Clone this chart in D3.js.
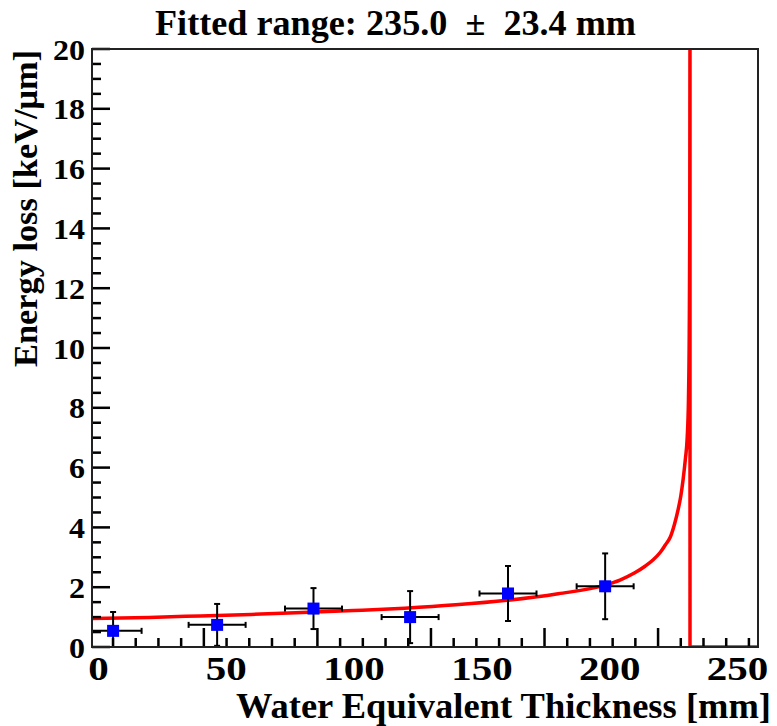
<!DOCTYPE html>
<html>
<head>
<meta charset="utf-8">
<script src="https://cdn.jsdelivr.net/npm/d3@7"></script>
<style>
  html, body { margin: 0; padding: 0; background: #fff; }
  svg { display: block; }
  text { font-family: "Liberation Serif", "Times New Roman", serif; font-weight: bold; fill: #000; }
</style>
</head>
<body>
<svg id="chart" width="777" height="726"></svg>
<script>
// ---------------- data ----------------
const titleText = "Fitted range: 235.0  \u00B1  23.4 mm";
const xTitle = "Water Equivalent Thickness [mm]";
const yTitle = "Energy loss [keV/\u03BCm]";

const xTickLabels = [0, 50, 100, 150, 200, 250];
const yTickLabels = [0, 2, 4, 6, 8, 10, 12, 14, 16, 18, 20];
const yMinorTicks = [0.5, 1, 1.5, 2.5, 3, 3.5, 4.5, 5, 5.5, 6.5, 7, 7.5, 8.5, 9, 9.5, 10.5, 11, 11.5, 12.5, 13, 13.5, 14.5, 15, 15.5, 16.5, 17, 17.5, 18.5, 19, 19.5];
const xMinorTicks = [1, 2, 3, 4, 6, 7, 8, 9, 11, 12, 13, 14, 16, 17, 18, 19, 21, 22, 23, 24, 26, 27, 28, 29];
const xMajorTicks = [5, 10, 15, 20, 25];

// measured points (mm, keV/um) with errors
const pointX    = [5.9, 46.6, 84.3, 122.1, 160.4, 198.4];
const pointY    = [0.54, 0.74, 1.285, 1.00, 1.79, 2.03];
const pointXErr = [11.15, 11.15, 11.15, 11.15, 11.15, 11.15];
const pointYErr = [0.63, 0.70, 0.685, 0.87, 0.92, 1.10];

// fitted curve
const fitX = [-2.35, 20, 40, 60, 80, 100, 120, 140, 160, 180, 198.4, 204.2, 210, 214, 217.1, 220, 222, 223.8, 225.5, 226.9, 228, 228.9, 229.8, 230.5, 231.0, 231.3, 231.5, 231.6, 231.6, 231.6, 258.2];
const fitY = [0.95, 0.99, 1.04, 1.09, 1.15, 1.22, 1.30, 1.41, 1.56, 1.78, 2.07, 2.24, 2.48, 2.70, 2.91, 3.17, 3.42, 3.66, 4.10, 4.58, 5.05, 5.60, 6.30, 7.00, 8.3, 10.5, 14.0, 20.5, 20.5, 0, 0];

// ---------------- layout ----------------
const L = 92, R = 758, T = 49, B = 647;
const svg = d3.select("#chart");

const x = d3.scaleLinear().domain([-2.35, 258.2]).range([L, R]);
const xDiv = d3.scaleLinear().domain([0.075, 29.4]).range([L, R]);
const y = d3.scaleLinear().domain([0, 20]).range([B, T]);

svg.append("rect").attr("width", 777).attr("height", 726).attr("fill", "#fff");

svg.append("defs").append("clipPath").attr("id", "clip")
  .append("rect").attr("x", L).attr("y", T).attr("width", R - L).attr("height", B - T);

// ---- tick labels (via axes) ----
const yAx = svg.append("g").attr("transform", `translate(${L},0)`)
  .call(d3.axisLeft(y).tickValues(yTickLabels).tickSize(0).tickPadding(7).tickFormat(d3.format("d")));
yAx.select(".domain").remove();
yAx.selectAll("text")
  .attr("font-size", 29)
  .attr("dy", "0.35em")
  .attr("textLength", d => String(d).length * 16)
  .attr("lengthAdjust", "spacingAndGlyphs")
  .style("font-family", '"Liberation Serif", serif').style("font-weight", "bold").attr("fill", "#000");

const xAx = svg.append("g").attr("transform", `translate(0,${B})`)
  .call(d3.axisBottom(x).tickValues(xTickLabels).tickSize(0).tickPadding(10).tickFormat(d3.format("d")));
xAx.select(".domain").remove();
xAx.selectAll("text")
  .attr("font-size", 33)
  .attr("textLength", d => String(d).length * 20.5)
  .attr("lengthAdjust", "spacingAndGlyphs")
  .style("font-family", '"Liberation Serif", serif').style("font-weight", "bold").attr("fill", "#000");

// ---- fit curve ----
const fitData = fitX.map((v, i) => [v, fitY[i]]);
svg.append("path").datum(fitData)
  .attr("clip-path", "url(#clip)")
  .attr("fill", "none").attr("stroke", "#ff0000").attr("stroke-width", 3.5)
  .attr("stroke-linejoin", "round")
  .attr("d", d3.line().x(d => x(d[0])).y(d => y(d[1])).curve(d3.curveMonotoneX));

// ---- error bars and markers ----
const pts = pointX.map((v, i) => ({ x: v, y: pointY[i], ex: pointXErr[i], ey: pointYErr[i] }));
const eg = svg.append("g").attr("clip-path", "url(#clip)").attr("stroke", "#000").attr("stroke-width", 2);
const cap = 3;
pts.forEach(p => {
  const cx = x(p.x), cy = y(p.y);
  const x0 = x(p.x - p.ex), x1 = x(p.x + p.ex);
  const y0 = y(p.y - p.ey), y1 = y(p.y + p.ey);
  eg.append("line").attr("x1", x0).attr("x2", x1).attr("y1", cy).attr("y2", cy);
  eg.append("line").attr("x1", cx).attr("x2", cx).attr("y1", y0).attr("y2", y1);
  eg.append("line").attr("x1", x0).attr("x2", x0).attr("y1", cy - cap).attr("y2", cy + cap);
  eg.append("line").attr("x1", x1).attr("x2", x1).attr("y1", cy - cap).attr("y2", cy + cap);
  eg.append("line").attr("x1", cx - cap).attr("x2", cx + cap).attr("y1", y0).attr("y2", y0);
  eg.append("line").attr("x1", cx - cap).attr("x2", cx + cap).attr("y1", y1).attr("y2", y1);
});
svg.append("g").selectAll("rect").data(pts).join("rect")
  .attr("x", d => x(d.x) - 6).attr("y", d => y(d.y) - 6)
  .attr("width", 12).attr("height", 12).attr("fill", "#0000ff");

// ---- ticks as filled rects (on top) ----
const tg = svg.append("g").attr("fill", "#000");
const tw = 2.5;
tg.selectAll("rect.ym").data(yMinorTicks).join("rect").attr("class", "ym")
  .attr("x", L).attr("y", d => y(d) - tw / 2).attr("width", 9).attr("height", tw);
tg.selectAll("rect.yM").data(yTickLabels).join("rect").attr("class", "yM")
  .attr("x", L).attr("y", d => y(d) - tw / 2).attr("width", 18).attr("height", tw);
tg.selectAll("rect.xm").data(xMinorTicks).join("rect").attr("class", "xm")
  .attr("x", d => xDiv(d) - tw / 2).attr("y", B - 9).attr("width", tw).attr("height", 9);
tg.selectAll("rect.xM").data(xMajorTicks).join("rect").attr("class", "xM")
  .attr("x", d => xDiv(d) - tw / 2).attr("y", B - 19).attr("width", tw).attr("height", 19);

// ---- frame ----
svg.append("rect").attr("x", L).attr("y", T).attr("width", R - L).attr("height", B - T)
  .attr("fill", "none").attr("stroke", "#222").attr("stroke-width", 2);

// ---- titles ----
svg.append("text").attr("x", 395.5).attr("y", 35)
  .attr("text-anchor", "middle").attr("font-size", 36)
  .style("white-space", "pre")
  .attr("textLength", 481).attr("lengthAdjust", "spacingAndGlyphs")
  .text(titleText);

svg.append("text").attr("x", 771).attr("y", 718)
  .attr("text-anchor", "end").attr("font-size", 36)
  .attr("textLength", 535).attr("lengthAdjust", "spacingAndGlyphs")
  .text(xTitle);

svg.append("text").attr("transform", "translate(37,50) rotate(-90)")
  .attr("text-anchor", "end").attr("font-size", 33)
  .attr("textLength", 317).attr("lengthAdjust", "spacingAndGlyphs")
  .text(yTitle);
</script>
</body>
</html>
